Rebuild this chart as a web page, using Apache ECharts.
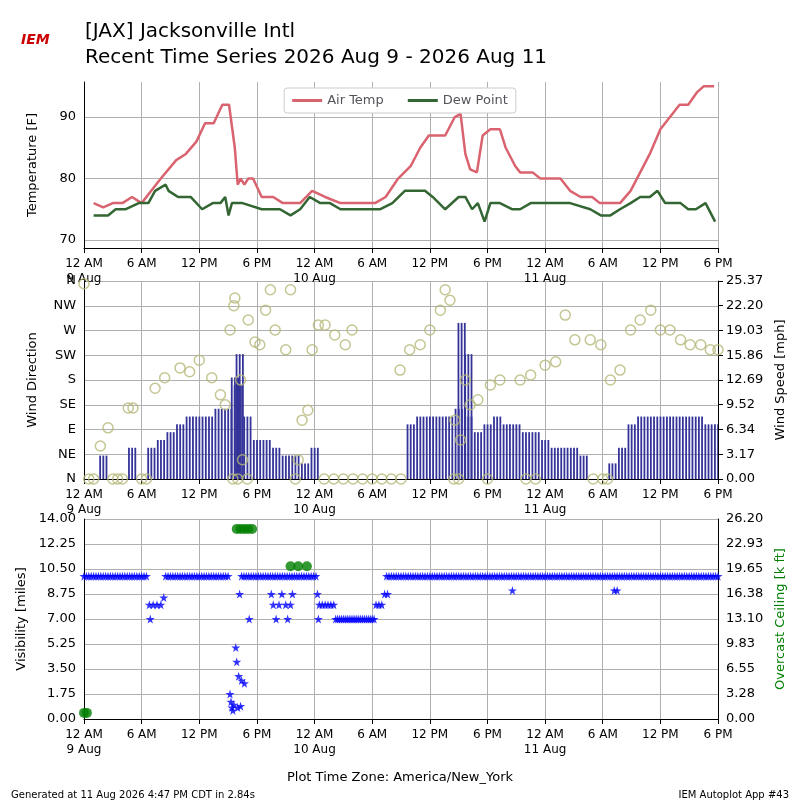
<!DOCTYPE html>
<html><head><meta charset="utf-8">
<script src="https://cdn.jsdelivr.net/npm/echarts@6/dist/echarts.min.js"></script>
<style>body{margin:0}#c{width:800px;height:800px}</style></head>
<body><div id="c"></div>
<script>
// hours since 2026-08-09 00:00 local (America/New_York)
const tempData=[[1,76],[2,75.3],[3,76],[4,76],[5,77],[6,76],[7,78],[8,80],[9.6,83],[10.6,84],[11.7,86],[12.6,89],[13.5,89],[14.4,92],[15.1,92],[15.7,85],[16,79],[16.3,80],[16.7,79],[17.1,80],[17.6,80],[18.5,77],[19.7,77],[20.7,76],[22.5,76],[23.75,78],[25.1,77],[26.7,76],[30.3,76],[31.4,77],[32.7,80],[34,82],[35,85],[35.9,87],[37.6,87],[38.6,90],[39.2,90.5],[39.7,84],[40.2,81.5],[40.9,81],[41.5,87],[42.3,88],[43.3,88],[43.9,85],[44.9,82],[45.4,81],[46.7,81],[47.5,80],[49.6,80],[50.6,78],[51.7,77],[52.9,77],[53.7,76],[55.8,76],[56.9,78],[57.9,81],[58.9,84],[60,88],[62,92],[62.9,92],[63.8,94],[64.5,95],[65.6,95]];
const dewData=[[1,74],[2.5,74],[3.3,75],[4.3,75],[5.7,76],[6.7,76],[7.4,78],[8.5,79],[8.8,78],[9.8,77],[11.1,77],[12.3,75],[13.4,76],[14.2,76],[14.7,77],[15.05,74],[15.4,76],[16.5,76],[18.5,75],[20.4,75],[21.5,74],[22.5,75],[23.5,77],[24.6,76],[25.6,76],[26.7,75],[30.8,75],[32.1,76],[33.4,78],[35.5,78],[36.3,77],[37.6,75],[39,77],[39.7,77],[40.4,75],[41,76],[41.7,73],[42.3,76],[43.3,76],[44.6,75],[45.4,75],[46.5,76],[50.6,76],[52.7,75],[53.8,74],[54.8,74],[55.8,75],[56.9,76],[57.9,77],[58.9,77],[59.7,78],[60.5,76],[62.1,76],[62.9,75],[63.7,75],[64.7,76],[65.7,73]];
const speedData=[0,0,3,0,0,4,0,4,5,6,7,8,8,8,9,9,12,8,5,5,4,3,3,2,4,0,0,0,0,0,0,0,0,0,7,8,8,8,8,9,8,6,7,8,7,7,6,6,5,4,4,4,3,0,0,2,4,7,8,8,8,8,8,8,8,7,7];
const gustBars=[[16.2,16],[15.7,13],[39.3,20],[40,16]];
const dirData=[[0,355],[1.7,60],[2.5,93],[4.6,129],[5.1,129],[7.4,165],[8.4,184],[10,202],[11,195],[12,216],[13.3,184],[14.2,153],[14.7,135],[15.2,271],[15.7,329],[15.6,315],[16.3,180],[16.5,35],[17.1,289],[17.8,249],[18.3,244],[18.9,307],[19.4,344],[19.9,271],[21,235],[21.5,344],[22.3,35],[22.7,107],[23.3,125],[23.75,235],[24.4,280],[25.1,280],[26.1,262],[27.2,244],[27.9,271],[32.9,198],[33.9,235],[35,244],[36,271],[37.1,307],[37.6,344],[38.1,325],[38.6,107],[39.2,71],[39.7,180],[40.2,135],[41,144],[42.3,171],[43.3,180],[45.4,180],[46.5,189],[48,207],[49.1,213],[50.1,298],[51.1,253],[52.7,253],[53.8,244],[54.8,180],[55.8,198],[56.9,271],[57.9,289],[59,307],[60,271],[61,271],[62.1,253],[63.1,244],[64.2,244],[65.2,235],[66,235]];
const calmHours=[0.5,1,3,3.5,4,6,6.5,15.5,16,17,22,25,26,27,28,29,30,31,32,33,38.5,39,42,46,47,53,54,54.5];
const vis10Ranges=[[0,6.7],[8.5,15.1],[16.4,24.3],[31.5,66]];
const vis7Range=[26.2,30.2];
const visOther=[[6.8,8],[6.9,7],[7.2,8],[7.6,8],[8.0,8],[8.3,8.5],[15.2,1.75],[15.3,1.2],[15.4,0.8],[15.5,0.6],[15.6,1.0],[15.8,5],[15.9,4],[16.0,0.8],[16.1,3],[16.3,0.9],[16.4,2.7],[16.7,2.5],[16.2,8.75],[17.2,7],[19.5,8.75],[19.7,8],[20,7],[20.3,8],[20.6,8.75],[21,8],[21.2,7],[21.5,8],[21.7,8.75],[24.3,8.75],[24.4,7],[24.5,8],[24.8,8],[25.1,8],[25.4,8],[25.7,8],[26,8],[30.4,8],[30.7,8],[31,8],[31.3,8.75],[31.6,8.75],[44.6,9],[55.2,9],[55.5,9]];
const ceilData=[[0,0.8],[0.3,0.8],[15.9,24.9],[16.3,24.9],[16.7,24.9],[17.1,24.9],[17.5,24.9],[21.5,20],[22.3,20],[23.2,20]];
const tempTicks=[70,80,90];
const spdTicks=['0.00','3.17','6.34','9.52','12.69','15.86','19.03','22.20','25.37'];
const ceilTicks=['0.00','3.28','6.55','9.83','13.10','16.38','19.65','22.93','26.20'];
const dirLabels=['N','NE','E','SE','S','SW','W','NW','N'];

const base=Date.UTC(2026,7,9), H=3600000;
const T=h=>base+h*H;
const tp=a=>a.map(p=>[T(p[0]),p[1]]);
const visStars=[];
vis10Ranges.forEach(r=>{for(let h=r[0];h<=r[1]+1e-9;h+=0.25)visStars.push([T(h),10]);});
for(let h=vis7Range[0];h<=vis7Range[1]+1e-9;h+=0.2)visStars.push([T(h),7]);
visOther.forEach(p=>visStars.push([T(p[0]),p[1]]));
const star='path://M50,0 L61,35 L98,35 L68,57 L79,91 L50,70 L21,91 L32,57 L2,35 L39,35 Z';
const F='DejaVu Sans';
const fmtX=(v)=>{const d=new Date(v);const h=d.getUTCHours();const hs=h===0?'12 AM':h===12?'12 PM':(h<12?h+' AM':(h-12)+' PM');return h===0?hs+'\n'+d.getUTCDate()+' Aug':hs;};
const xAx=i=>({type:'time',gridIndex:i,min:T(0),max:T(66),interval:6*H,
 axisLabel:{formatter:fmtX,color:'#000',fontFamily:F,fontSize:12,lineHeight:15,hideOverlap:false,showMinLabel:true,showMaxLabel:true},
 axisLine:{onZero:false,lineStyle:{color:'#000'}},axisTick:{lineStyle:{color:'#000'}},
 splitLine:{show:true,lineStyle:{color:'#b0b0b0'}},minorTick:{show:false}});
const yl={color:'#000',fontFamily:F,fontSize:13};
const nm={fontFamily:F,fontSize:13,color:'#000'};
const spdBars=speedData.map((v,i)=>[T(i),v]).concat(tp(gustBars));
const opt={animation:false,
 title:[{text:'[JAX] Jacksonville Intl\nRecent Time Series 2026 Aug 9 - 2026 Aug 11',left:80,top:14,textStyle:{fontFamily:F,fontSize:20,fontWeight:'normal',lineHeight:26,color:'#000'}},
  {text:'IEM',left:16,top:28,textStyle:{fontFamily:F,fontSize:14,fontStyle:'italic',fontWeight:'bold',color:'#c00'}},
  {text:'Plot Time Zone: America/New_York',left:'center',top:766,textStyle:{fontFamily:F,fontSize:13,fontWeight:'normal',color:'#000'}},
  {text:'Generated at 11 Aug 2026 4:47 PM CDT in 2.84s',left:6,top:785,textStyle:{fontFamily:F,fontSize:10,fontWeight:'normal',color:'#000'}},
  {text:'IEM Autoplot App #43',right:6,top:785,textStyle:{fontFamily:F,fontSize:10,fontWeight:'normal',color:'#000'}}],
 legend:{data:['Air Temp','Dew Point'],top:88,left:'center',itemWidth:30,itemHeight:3,itemGap:24,textStyle:{fontFamily:F,fontSize:13},
  borderColor:'#ccc',borderWidth:1,borderRadius:3,padding:[6,8],backgroundColor:'#fff',icon:'rect'},
 grid:[{left:84,right:82,top:82,height:166},{left:84,right:82,top:281,height:198},{left:84,right:82,top:519,height:200}],
 xAxis:[xAx(0),xAx(1),xAx(2)],
 yAxis:[
  {gridIndex:0,min:68.7,max:95.7,name:'Temperature [F]',nameLocation:'middle',nameGap:45,nameTextStyle:nm,
   axisLabel:Object.assign({customValues:tempTicks},yl),axisTick:{customValues:tempTicks},axisLine:{show:true,lineStyle:{color:'#000'}},
   splitLine:{show:true,lineStyle:{color:'#b0b0b0'}}},
  {gridIndex:1,min:0,max:360,interval:45,name:'Wind Direction',nameLocation:'middle',nameGap:45,nameTextStyle:nm,
   axisLabel:Object.assign({formatter:(v)=>dirLabels[Math.round(v/45)]},yl),axisLine:{show:true,lineStyle:{color:'#000'}},splitLine:{show:true,lineStyle:{color:'#b0b0b0'}}},
  {gridIndex:1,min:0,max:25.37,position:'right',name:'Wind Speed [mph]',nameLocation:'middle',nameGap:52,nameTextStyle:nm,
   axisLabel:Object.assign({customValues:spdTicks.map(Number),formatter:(v)=>v.toFixed(2)},yl),axisTick:{show:true,customValues:spdTicks.map(Number)},axisLine:{show:true,lineStyle:{color:'#000'}},splitLine:{show:false}},
  {gridIndex:2,min:0,max:14,interval:1.75,name:'Visibility [miles]',nameLocation:'middle',nameGap:45,nameTextStyle:nm,
   axisLabel:Object.assign({formatter:(v)=>v.toFixed(2)},yl),axisLine:{show:true,lineStyle:{color:'#000'}},splitLine:{show:true,lineStyle:{color:'#b0b0b0'}}},
  {gridIndex:2,min:0,max:26.2,interval:26.2/8,position:'right',name:'Overcast Ceiling [k ft]',nameLocation:'middle',nameGap:52,nameTextStyle:Object.assign({},nm,{color:'#008000'}),
   axisLabel:Object.assign({formatter:(v,i)=>ceilTicks[Math.round(v/(26.2/8))]},yl),axisLine:{show:true,lineStyle:{color:'#000'}},splitLine:{show:false}}],
 series:[
  {name:'Air Temp',type:'line',xAxisIndex:0,yAxisIndex:0,data:tp(tempData),showSymbol:false,color:'#d9636f',lineStyle:{width:2.5}},
  {name:'Dew Point',type:'line',xAxisIndex:0,yAxisIndex:0,data:tp(dewData),showSymbol:false,color:'#336633',lineStyle:{width:2.5}},
  {type:'custom',xAxisIndex:1,yAxisIndex:2,data:spdBars,clip:true,
   renderItem:(params,api)=>{const p=api.coord([api.value(0),api.value(1)]);const z=api.coord([api.value(0),0]);const w=api.size([0.6*H,0])[0];
    const g=[];for(let k=-1;k<=1;k++){g.push({type:'rect',shape:{x:p[0]+k*w*0.55-0.8,y:p[1],width:1.8,height:z[1]-p[1]},style:{fill:'#333399'}});}
    return {type:'group',children:g};}},
  {type:'scatter',xAxisIndex:1,yAxisIndex:1,data:tp(dirData).concat(calmHours.map(h=>[T(h),0])),symbol:'circle',symbolSize:10,
   itemStyle:{color:'transparent',borderColor:'#b5b878',borderWidth:1.5}},
  {type:'scatter',xAxisIndex:2,yAxisIndex:3,data:visStars,symbol:star,symbolSize:9,itemStyle:{color:'#0000ff'}},
  {type:'scatter',xAxisIndex:2,yAxisIndex:4,data:tp(ceilData),symbolSize:10,itemStyle:{color:'#008000'}}
 ]};
echarts.init(document.getElementById('c')).setOption(opt);
</script></body></html>
